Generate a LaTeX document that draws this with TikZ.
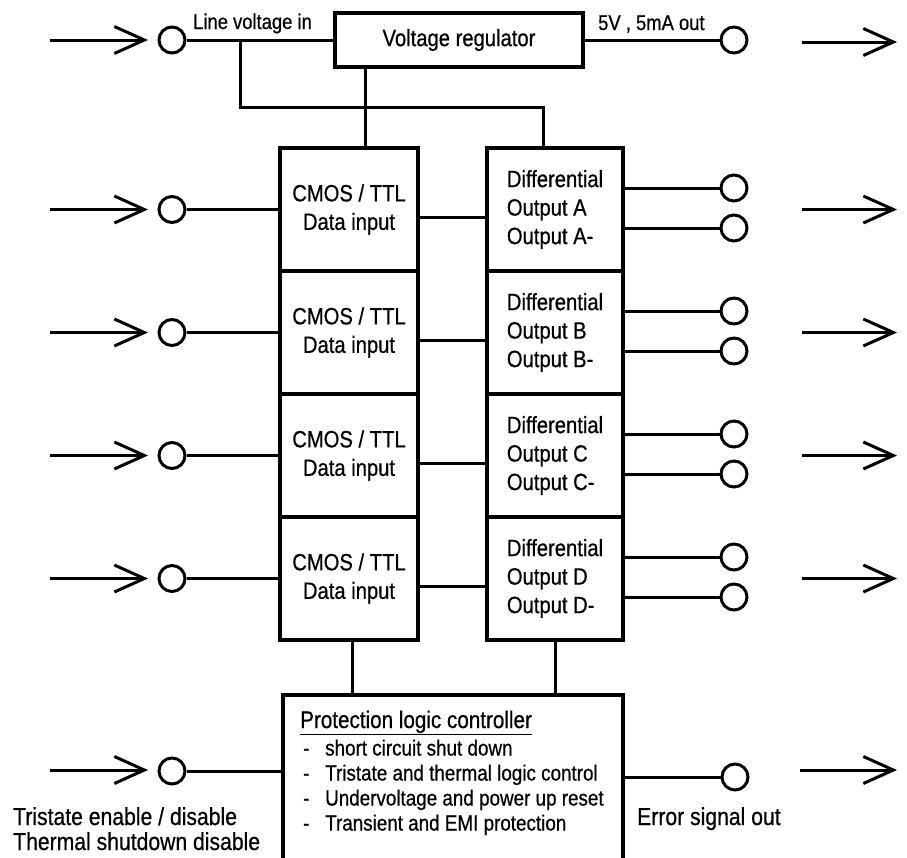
\documentclass[tikz,border=0pt]{standalone}
\usepackage{fontspec}
\setmainfont[FakeStretch=0.86,FakeBold=0.6]{Liberation Sans}
\usetikzlibrary{arrows.meta}
\begin{document}
\begin{tikzpicture}[x=1pt,y=-1pt,
  blk/.style={draw, line width=4pt, inner sep=0pt, outer sep=0pt, fill=white,
    font=\fontsize{23.5}{28.5}\selectfont},
  cmosbox/.style={blk, minimum width=138pt, minimum height=123pt, align=center},
  diffbox/.style={blk, minimum width=136pt, minimum height=123pt, align=left},
  port/.style={circle, draw, line width=3pt, minimum size=26pt, inner sep=0pt, fill=white},
  wire/.style={line width=3pt},
  sig/.style={line width=3pt, -{Straight Barb[length=30pt,width=27pt]}},
  lbl/.style={inner sep=0pt, anchor=base west, font=\fontsize{21.4}{24}\selectfont},
  biglbl/.style={inner sep=0pt, anchor=base west, font=\fontsize{24.6}{28}\selectfont},
  plhead/.style={inner sep=0pt, anchor=base west, font=\fontsize{24}{26}\selectfont},
  plitem/.style={inner sep=0pt, anchor=base west, font=\fontsize{21.9}{25}\selectfont},
]
\useasboundingbox (0,0) rectangle (907,857);
\clip (0,0) rectangle (907,857);

% ---------- top row: voltage regulator ----------
\coordinate (lvS) at (50,40);
\coordinate (lvE) at (148,40);
\node[port] (lvin) at (172,40) {};
\node[blk, minimum width=248pt, minimum height=54pt] (reg) at (459,40) {Voltage regulator};
\node[port] (vout) at (734,40) {};
\coordinate (voS) at (802,42);
\coordinate (voE) at (897,42);
\node[lbl] (lvtxt) at (193,29) {Line voltage in};
\node[lbl] (votxt) at (598,30) {5V , 5mA out};
\draw[sig] (lvS) -- (lvE);
\draw[sig] (voS) -- (voE);
\draw[wire] (lvin.east) -- (reg.west);
\draw[wire] (reg.east) -- (vout.west);

% ---------- rows ----------
\foreach \i/\L in {1/A,2/B,3/C,4/D}{
  \pgfmathsetmacro\T{148+123*(\i-1)}
  \node[cmosbox] (cmos\i) at (349,{\T+61.5}) {CMOS / TTL\\Data input};
  \node[diffbox] (diff\i) at (555,{\T+61.5}) {Differential\\Output \L\\Output \L-};
  \coordinate (inS\i) at (50,{\T+61.5});
  \coordinate (inE\i) at (148,{\T+61.5});
  \node[port] (inP\i) at (172,{\T+61.5}) {};
  \node[port] (outA\i) at (734,{\T+40}) {};
  \node[port] (outB\i) at (734,{\T+80}) {};
  \coordinate (oS\i) at (802,{\T+61.5});
  \coordinate (oE\i) at (897,{\T+61.5});
}
\foreach \i in {1,2,3,4}{
  \draw[sig] (inS\i) -- (inE\i);
  \draw[sig] (oS\i) -- (oE\i);
  \draw[wire] (inP\i.east) -- (cmos\i.west);
  \draw[wire] ([yshift=-7.5pt]cmos\i.east) -- ([yshift=-7.5pt]diff\i.west);
  \draw[wire] (diff\i.east |- outA\i) -- (outA\i.west);
  \draw[wire] (diff\i.east |- outB\i) -- (outB\i.west);
}

% ---------- supply wiring ----------
\coordinate (br1) at (240,40);
\coordinate (br2) at (240,107);
\coordinate (br3) at (543,107);
\coordinate (rtap) at (365,40);
\draw[wire] (br1) -- (br2) -- (br3) -- (br3 |- diff1.north);
\draw[wire] (rtap |- reg.south) -- (rtap |- cmos1.north);

% ---------- protection logic ----------
\node[draw, line width=4pt, inner sep=0pt, outer sep=0pt,
      minimum width=340pt, minimum height=185pt] (prot) at (453,787.5) {};
\coordinate (pc) at (352,0);
\coordinate (pd) at (555,0);
\draw[wire] (pc |- cmos4.south) -- (pc |- prot.north);
\draw[wire] (pd |- diff4.south) -- (pd |- prot.north);

\node[plhead] (plh) at (300,728) {\underline{Protection logic controller}};
\node[plitem] (d1) at (303,755.5) {-};
\node[plitem] (t1) at (325,755.5) {short circuit shut down};
\node[plitem] (d2) at (303,780.5) {-};
\node[plitem] (t2) at (325,780.5) {Tristate and thermal logic control};
\node[plitem] (d3) at (303,805.5) {-};
\node[plitem] (t3) at (325,805.5) {Undervoltage and power up reset};
\node[plitem] (d4) at (303,830.5) {-};
\node[plitem] (t4) at (325,830.5) {Transient and EMI protection};

\coordinate (pS) at (50,770);
\coordinate (pE) at (148,770);
\node[port] (pin) at (172,771) {};
\draw[sig] (pS) -- (pE);
\draw[wire] (pin.east) -- (pin.east -| prot.west);

\node[port] (perr) at (735,777) {};
\coordinate (eS) at (800,770);
\coordinate (eE) at (897,770);
\draw[sig] (eS) -- (eE);
\draw[wire] (perr.west -| prot.east) -- (perr.west);

\node[biglbl] (tri) at (13,825) {Tristate enable / disable};
\node[biglbl] (therm) at (13,850) {Thermal shutdown disable};
\node[biglbl] (err) at (637,825) {Error signal out};
\end{tikzpicture}
\end{document}
